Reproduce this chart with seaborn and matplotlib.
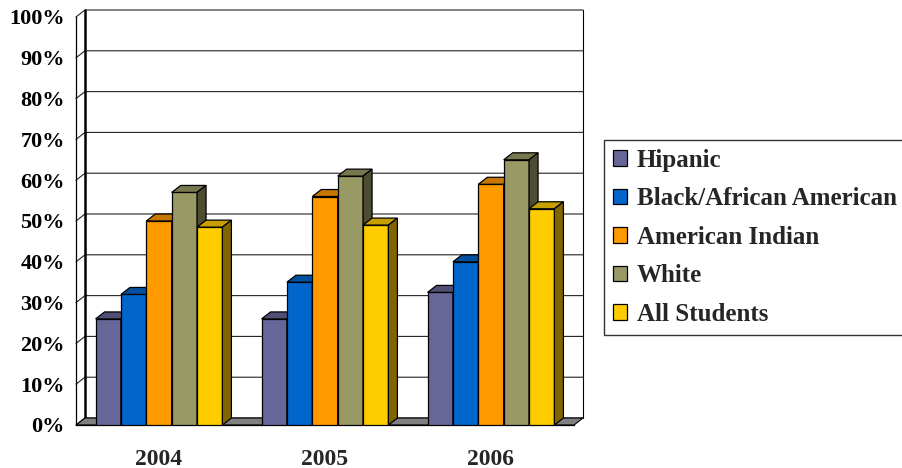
import matplotlib
matplotlib.use("Agg")
import matplotlib.pyplot as plt
import matplotlib.colors as mcolors
from matplotlib.patches import Polygon, Patch
import pandas as pd
import seaborn as sns

# ---- data -------------------------------------------------------------
years = ["2004", "2005", "2006"]
groups = ["Hipanic", "Black/African American", "American Indian", "White", "All Students"]
hispanic = [26, 26, 32.5]
black_african_american = [32, 35, 40]
american_indian = [50, 56, 59]
white = [57, 61, 65]
all_students = [48.5, 49, 53]
y_ticks = [0, 10, 20, 30, 40, 50, 60, 70, 80, 90, 100]
y_tick_labels = [f"{v}%" for v in y_ticks]
colors = ["#666699", "#0066CC", "#FF9900", "#999966", "#FFCC00"]

series = [hispanic, black_african_american, american_indian, white, all_students]
df = pd.DataFrame(
    [(yr, g, vals[i]) for g, vals in zip(groups, series) for i, yr in enumerate(years)],
    columns=["Year", "Group", "Rate"],
)

# ---- figure / styling -------------------------------------------------
sns.set_style("white")
plt.rcParams["font.family"] = ["Liberation Serif", "DejaVu Serif"]
plt.rcParams["font.weight"] = "bold"

W, H = 903, 468
fig = plt.figure(figsize=(W / 100, H / 100), dpi=100)
fig.patch.set_facecolor("white")

# depth of the pseudo-3D box (data units)
DX = 9 / 166
DY = 7 / 4.09

ax = fig.add_axes([76 / W, (H - 425) / H, (583 - 76) / W, (425 - 10) / H])
ax.set_facecolor("none")

sns.barplot(
    data=df, x="Year", y="Rate", hue="Group", order=years, hue_order=groups,
    palette=colors, saturation=1, width=0.764, edgecolor="black",
    linewidth=0.9, errorbar=None, legend=False, ax=ax,
)
bars = sorted(list(ax.patches), key=lambda p: p.get_x())

ax.set_xlim(-0.5, 2.5 + DX)
ax.set_ylim(0, 100 + DY)

# back wall with gridlines
for v in y_ticks:
    ax.plot([-0.5, -0.5 + DX, 2.5 + DX], [v, v + DY, v + DY],
            color="#222222", lw=0.8, zorder=0.5, clip_on=False)
ax.plot([-0.5 + DX, -0.5 + DX], [DY, 100 + DY], color="black", lw=1.8,
        zorder=0.6, clip_on=False)
ax.plot([2.5 + DX, 2.5 + DX], [DY, 100 + DY], color="black", lw=0.8,
        zorder=0.6, clip_on=False)

# floor slab
ax.add_patch(Polygon([(-0.5, 0), (2.5, 0), (2.5 + DX, DY), (-0.5 + DX, DY)],
                     closed=True, facecolor="#808080", edgecolor="black",
                     lw=0.8, zorder=1))

# top and side faces of each column
for i, bar in enumerate(bars):
    z = 2 + i * 0.01
    x0, w, h = bar.get_x(), bar.get_width(), bar.get_height()
    base = mcolors.to_rgb(bar.get_facecolor())
    top_c = tuple(c * 0.78 for c in base)
    side_c = tuple(c * 0.5 for c in base)
    bar.set_zorder(z)
    ax.add_patch(Polygon([(x0, h), (x0 + w, h), (x0 + w + DX, h + DY), (x0 + DX, h + DY)],
                         closed=True, facecolor=top_c, edgecolor="black", lw=0.9, zorder=z))
    ax.add_patch(Polygon([(x0 + w, 0), (x0 + w + DX, DY), (x0 + w + DX, h + DY), (x0 + w, h)],
                         closed=True, facecolor=side_c, edgecolor="black", lw=0.9, zorder=z))

# axes, ticks, labels
for s in ["top", "right"]:
    ax.spines[s].set_visible(False)
ax.spines["left"].set_bounds(0, 100)
ax.spines["bottom"].set_bounds(-0.5, 2.5)
for s in ["left", "bottom"]:
    ax.spines[s].set_linewidth(0.9)
    ax.spines[s].set_color("black")
    ax.spines[s].set_zorder(1.5)

ax.set_yticks(y_ticks, y_tick_labels)
ax.tick_params(axis="y", direction="out", length=6, width=0.8, pad=2,
               labelsize=16, colors="black")
ax.set_xticks(range(len(years)), years)
ax.set_xticks([-0.5, 0.5, 1.5, 2.5], minor=True)
ax.tick_params(axis="x", which="major", length=0, pad=17, labelsize=17)
ax.tick_params(axis="x", which="minor", direction="out", length=6, width=0.8)
for t in ax.get_xticklabels() + ax.get_yticklabels():
    t.set_fontweight("bold")
ax.set_xlabel("")
ax.set_ylabel("")

handles = [Patch(facecolor=c, edgecolor="black", lw=0.9) for c in colors]
leg = fig.legend(
    handles, groups, loc="upper left",
    bbox_to_anchor=(604 / W, 1 - 140 / H), bbox_transform=fig.transFigure,
    frameon=True, fancybox=False, shadow=False, edgecolor="black",
    prop={"family": ["Liberation Serif", "DejaVu Serif"], "weight": "bold", "size": 18},
    handlelength=0.56, handleheight=0.56, handletextpad=0.4,
    borderpad=0.35, labelspacing=0.62, borderaxespad=0,
)
leg.get_frame().set_linewidth(1.0)

fig.savefig("out.png", dpi=100, facecolor="white")
